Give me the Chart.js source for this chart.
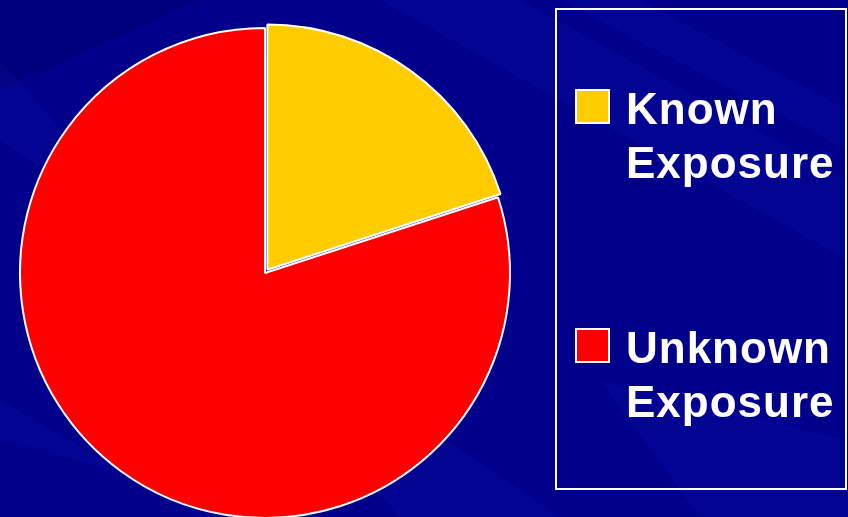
<!DOCTYPE html>
<html>
<head>
<meta charset="utf-8">
<script src="https://cdn.jsdelivr.net/npm/chart.js@4"></script>
<style>
  html, body { margin: 0; padding: 0; overflow: hidden; background: #000088; }
  #wrap { position: absolute; left: 0; top: 0; width: 848px; height: 530px; }
</style>
</head>
<body>
<div id="wrap"><canvas id="pie"></canvas></div>
<script>
const labels = [['Known', 'Exposure'], ['Unknown', 'Exposure']];
const shares = [20, 80];
const colors = ['#ffcc00', '#ff0000'];

// navy backdrop with faint diagonal bands
const backdrop = {
  id: 'backdrop',
  beforeDraw(chart) {
    const c = chart.ctx;
    const w = chart.width, h = chart.height;
    c.save();
    c.fillStyle = '#00008a';
    c.fillRect(0, 0, w, h);
    const bands = [
      [[380, 0], [520, 0], [848, 180], [848, 260]],
      [[560, 0], [640, 0], [848, 110], [848, 150]],
      [[0, 60], [0, 140], [560, 517], [400, 517]],
      [[0, 400], [0, 440], [300, 517], [200, 517]],
      [[600, 380], [848, 440], [848, 517], [700, 517]]
    ];
    c.fillStyle = 'rgba(20, 20, 180, 0.2)';
    bands.forEach(b => {
      c.beginPath();
      c.moveTo(b[0][0], b[0][1]);
      b.slice(1).forEach(p => c.lineTo(p[0], p[1]));
      c.closePath();
      c.fill();
    });
    c.fillStyle = 'rgba(0, 0, 90, 0.25)';
    c.beginPath();
    c.moveTo(0, 0); c.lineTo(200, 0); c.lineTo(0, 90); c.closePath();
    c.fill();
    c.restore();
  }
};

// boxed legend on the right, two-line labels
const sideLegend = {
  id: 'sideLegend',
  afterDraw(chart) {
    const c = chart.ctx;
    c.save();
    c.strokeStyle = '#ffffff';
    c.lineWidth = 2;
    c.strokeRect(556, 9, 290, 480);
    c.font = 'bold 44px "Liberation Sans", Arial, sans-serif';
    c.letterSpacing = '1px';
    c.textBaseline = 'alphabetic';
    const tops = [90, 329];
    chart.data.labels.forEach((lab, i) => {
      const y = tops[i];
      c.fillStyle = chart.data.datasets[0].backgroundColor[i];
      c.fillRect(576, y, 33, 33);
      c.strokeStyle = '#ffffff';
      c.lineWidth = 2;
      c.strokeRect(576, y, 33, 33);
      c.fillStyle = '#ffffff';
      lab.forEach((line, k) => {
        c.fillText(line, 626, y + 34 + k * 54);
      });
    });
    c.restore();
  }
};

new Chart(document.getElementById('pie'), {
  type: 'pie',
  data: {
    labels: labels,
    datasets: [{
      data: shares,
      backgroundColor: colors,
      borderColor: '#ffffff',
      borderWidth: 2,
      offset: [16, 0]
    }]
  },
  options: {
    responsive: true,
    maintainAspectRatio: false,
    animation: false,
    layout: {
      padding: { left: 11, right: 329, top: 19, bottom: 3 }
    },
    plugins: {
      legend: { display: false },
      tooltip: { enabled: false }
    }
  },
  plugins: [backdrop, sideLegend]
});
</script>
</body>
</html>
